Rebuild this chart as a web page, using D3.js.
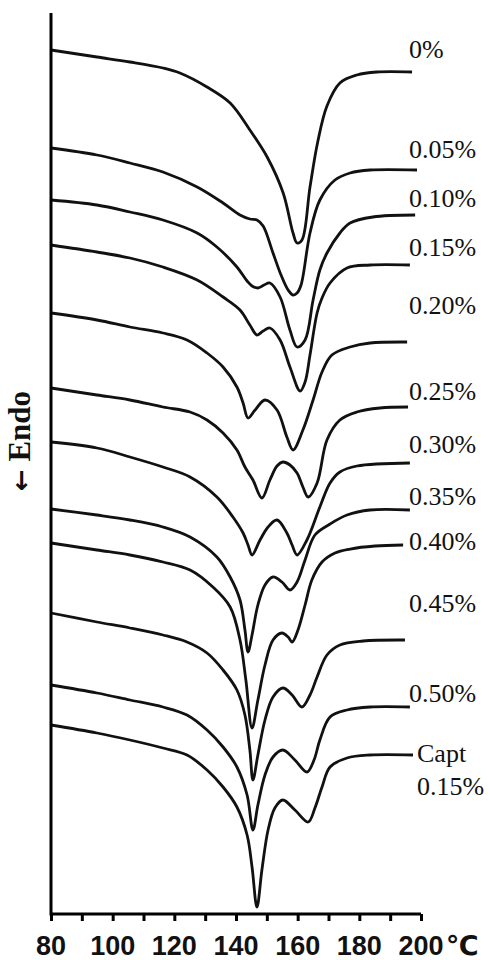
<!DOCTYPE html>
<html>
<head>
<meta charset="utf-8">
<script src="https://cdn.jsdelivr.net/npm/d3@7/dist/d3.min.js"></script>
<style>
  html, body { margin: 0; padding: 0; background: #fff; }
  svg { display: block; }
</style>
</head>
<body>
<div class="ChartWrapper"></div>
<script>
// DSC curves: temperature (°C) vs stacked heat flow (a.u., curves offset)
const xTicks = [80, 90, 100, 110, 120, 130, 140, 150, 160, 170, 180, 190, 200];
const xTickLabels = ['80', '100', '120', '140', '160', '180', '200'];
const seriesNames = ['0%', '0.05%', '0.10%', '0.15%', '0.20%', '0.25%', '0.30%', '0.35%', '0.40%', '0.45%', '0.50%', 'Capt|0.15%'];

const c000 = [[80,864],[94.9,857],[105.6,852],[116.3,846],[121.8,841],[130.6,827],[138.1,811],[144.5,784],[150.1,757],[155.3,721],[158.5,681],[159.8,671],[161.4,674],[164.0,727],[166.5,772],[169.5,808],[173.7,831],[179.2,839],[185.7,842],[197.1,842]];
const c005 = [[80,766],[94.9,759],[105.6,751],[116.3,742],[127.4,727],[135.8,711],[141.3,699],[144.5,695],[146.8,694],[148.8,688],[152.0,661],[154.6,639],[156.9,624],[158.5,619],[159.8,621],[161.1,629],[164.0,681],[167.2,714],[172.1,734],[177.0,741],[183.5,744],[198.7,744]];
const c010 = [[80,714],[94.9,709],[105.6,702],[116.3,694],[127.4,681],[133.8,667],[140.3,647],[143.6,633],[145.2,628],[147.1,626],[149.1,629],[151.0,631],[154.3,617],[157.5,584],[159.8,567],[162.4,574],[165.0,614],[167.2,644],[169.5,661],[173.7,681],[177.0,691],[184.4,697],[198.1,699]];
const c015 = [[80,669],[94.9,662],[105.6,656],[116.3,647],[127.4,634],[135.8,617],[141.3,604],[144.5,589],[146.8,579],[148.8,583],[151.0,586],[154.3,574],[157.5,547],[160.8,523],[162.4,532],[164.0,559],[166.3,601],[167.9,616],[170.5,631],[176.0,646],[183.5,649],[196.4,649]];
const c020 = [[80,601],[94.9,594],[105.6,587],[116.3,581],[124.1,574],[130.6,561],[135.8,547],[140.3,527],[142.3,511],[143.9,496],[146.2,504],[149.4,514],[153.3,504],[156.5,477],[158.5,464],[161.7,484],[165.0,514],[167.9,542],[171.1,559],[177.0,567],[183.5,571],[195.5,572]];
const c025 = [[80,526],[94.9,519],[105.6,514],[116.3,507],[125.1,502],[130.6,494],[135.8,481],[140.3,464],[142.9,447],[145.5,434],[148.4,416],[151.0,434],[153.3,448],[155.2,452],[157.5,449],[159.8,441],[161.7,427],[163.4,417],[166.3,431],[169.5,474],[173.7,494],[179.2,502],[186.7,506],[195.8,507]];
const c030 = [[80,472],[94.9,466],[105.6,457],[116.3,447],[125.1,437],[133.8,417],[139.0,397],[142.3,381],[143.9,369],[145.2,359],[147.8,374],[150.4,387],[153.3,394],[156.5,381],[158.2,369],[159.8,359],[163.0,374],[167.2,407],[170.5,431],[173.7,442],[179.2,448],[196.4,451]];
const c035 = [[80,405],[94.9,399],[105.6,394],[116.3,387],[125.1,377],[133.8,357],[138.1,337],[141.3,314],[142.9,284],[143.9,262],[145.2,279],[147.1,309],[149.4,329],[152.0,337],[154.9,332],[157.5,324],[159.8,332],[162.4,354],[165.6,379],[170.5,390],[176.0,399],[183.5,404],[196.4,404]];
const c040 = [[80,371],[94.9,364],[105.6,359],[116.3,352],[125.1,344],[132.5,327],[138.1,307],[141.3,274],[143.2,234],[145.2,186],[147.1,214],[149.4,249],[152.0,274],[154.9,281],[156.9,277],[158.2,272],[160.1,284],[162.4,309],[164.6,334],[167.9,352],[172.1,361],[177.0,365],[185.1,368],[194.2,369]];
const c045 = [[80,301],[94.9,292],[105.6,286],[116.3,279],[124.1,272],[130.6,261],[135.8,244],[140.3,224],[142.9,199],[144.5,164],[145.5,134],[147.1,159],[149.4,194],[152.0,217],[155.2,226],[158.2,219],[161.4,207],[164.0,219],[166.3,237],[169.5,259],[173.7,269],[181.2,273],[194.8,274]];
const c050 = [[80,229],[94.9,221],[105.6,214],[116.3,207],[124.1,199],[130.6,184],[135.8,167],[140.3,147],[143.6,119],[145.5,84],[147.1,109],[149.4,139],[152.0,157],[155.2,164],[159.1,154],[163.0,142],[165.3,154],[167.2,174],[170.5,197],[176.0,204],[183.5,207],[196.4,207]];
const cCapt = [[80,189],[94.9,181],[105.6,174],[116.3,166],[124.1,159],[130.6,144],[135.8,127],[140.3,107],[143.6,79],[145.2,47],[146.8,7],[148.4,44],[150.4,84],[152.6,106],[155.2,114],[159.1,104],[163.4,92],[165.6,106],[167.9,127],[170.5,147],[176.0,156],[183.5,159],[197.4,159]];

const curves = [c000, c005, c010, c015, c020, c025, c030, c035, c040, c045, c050, cCapt];

const CHART = {
  width: 490,
  height: 960,
  left: 51,
  right: 421,
  top: 13,
  bottom: 914,
  stroke: 2.8,
  labelX: 409,
  labelDy: [-14, -12, -8, -9, -28, -7, -10, -5, 5, -28, -5, 7],
};

const svg = d3.select('.ChartWrapper')
  .append('svg')
  .attr('width', CHART.width)
  .attr('height', CHART.height);

const x = d3.scaleLinear().domain([80, 200]).range([CHART.left, CHART.right]);
const y = d3.scaleLinear().domain([0, 901]).range([CHART.bottom, CHART.top]);

const line = d3.line()
  .x(d => x(d[0]))
  .y(d => y(d[1]))
  .curve(d3.curveCatmullRom.alpha(0.5));

svg.append('g')
  .selectAll('path')
  .data(curves)
  .enter()
  .append('path')
  .attr('d', line)
  .attr('fill', 'none')
  .attr('stroke', '#111')
  .attr('stroke-width', CHART.stroke)
  .attr('stroke-linejoin', 'round');

// x axis
const xAxis = svg.append('g')
  .attr('transform', `translate(0, ${CHART.bottom})`)
  .call(d3.axisBottom(x).tickValues(xTicks).tickSize(7).tickFormat(''));
xAxis.select('.domain')
  .attr('d', `M${CHART.left},0H${CHART.right}`)
  .attr('stroke', '#000')
  .attr('stroke-width', 3);
xAxis.selectAll('.tick line')
  .attr('stroke', '#000')
  .attr('stroke-width', 3);

svg.append('g')
  .selectAll('text')
  .data(xTickLabels)
  .enter()
  .append('text')
  .attr('x', d => x(+d))
  .attr('y', 955)
  .attr('text-anchor', 'middle')
  .attr('font-family', 'Liberation Sans, Arial, sans-serif')
  .attr('font-weight', 'bold')
  .attr('font-size', 27)
  .attr('fill', '#111')
  .text(d => d);

svg.append('text')
  .attr('x', x(200) + 25)
  .attr('y', 955)
  .attr('font-family', 'DejaVu Sans, sans-serif')
  .attr('font-weight', 'bold')
  .attr('font-size', 27)
  .attr('fill', '#111')
  .text('\u2103');

// y axis
svg.append('line')
  .attr('x1', CHART.left)
  .attr('x2', CHART.left)
  .attr('y1', CHART.top)
  .attr('y2', CHART.bottom + 1.5)
  .attr('stroke', '#000')
  .attr('stroke-width', 3);

const endo = svg.append('text')
  .attr('transform', 'translate(30, 441) rotate(-90)')
  .attr('text-anchor', 'middle')
  .attr('font-family', 'Liberation Serif, Times New Roman, serif')
  .attr('font-weight', 'bold')
  .attr('font-size', 31)
  .attr('fill', '#111');
endo.append('tspan')
  .attr('font-family', 'DejaVu Sans, sans-serif')
  .attr('font-size', 26)
  .text('\u2190');
endo.append('tspan')
  .text(' Endo');

// curve labels
curves.forEach((c, i) => {
  const end = c[c.length - 1];
  const parts = seriesNames[i].split('|');
  const lx = parts.length > 1 ? CHART.labelX + 8 : CHART.labelX;
  const t = svg.append('text')
    .attr('x', lx)
    .attr('y', y(end[1]) + CHART.labelDy[i])
    .attr('font-family', 'Liberation Serif, Times New Roman, serif')
    .attr('font-size', 26)
    .attr('fill', '#111');
  parts.forEach((p, k) => {
    t.append('tspan')
      .attr('x', lx)
      .attr('dy', k === 0 ? 0 : 33)
      .text(p);
  });
});
</script>
</body>
</html>
